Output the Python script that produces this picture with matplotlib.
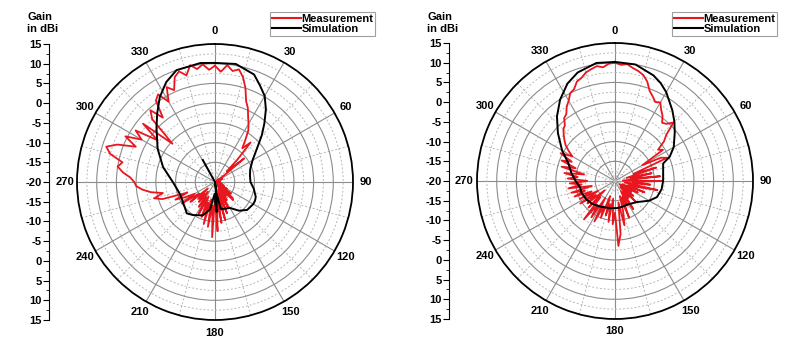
import numpy as np
import matplotlib
matplotlib.use("Agg")
import matplotlib.pyplot as plt
from matplotlib.lines import Line2D

plt.rcParams['font.family'] = ['Liberation Sans', 'DejaVu Sans']
plt.rcParams['font.weight'] = 'bold'

# --- data (angle in degrees, gain in dBi) ---
ang_meas = list(range(0, 360, 3))

# left plot
sim_l_theta = [0, 10, 20, 25, 30, 35, 40, 45, 50, 60, 70, 80, 90, 100, 110, 115, 120, 131, 140,
               150, 160, 168, 171, 173, 175, 177, 179, 182, 190, 200, 214, 222, 230, 241, 250,
               258, 270, 286, 300, 313, 320, 327, 334, 341, 353, 360]
sim_l_gain = [10.2, 10.4, 9.0, 7.0, 5.2, 2.5, -0.5, -3.2, -5.8, -9.0, -10.5, -11.0, -11.0, -10.0,
              -9.0, -8.8, -8.8, -9.2, -10.5, -12.4, -12.8, -13.0, -16.5, -20.0, -15.0, -12.4, -14.5,
              -17.0, -13.0, -11.0, -9.9, -9.3, -10.0, -10.5, -10.6, -10.3, -9.3, -6.3, -3.2, 0.3,
              2.8, 5.7, 8.2, 10.0, 10.4, 10.2]
sim_l_stub_theta = [331, 331]
sim_l_stub_gain = [-13.6, -20.0]

meas_l_gain = [9.5, 8.0, 9.8, 8.5, 9.2, 7.5, 5.0, 2.0, 0.5, -1.5,
               -3.0, -4.5, -7.0, -9.0, -6.5, -12.0, -16.0, -10.5, -17.0, -19.0,
               -18.5, -19.5, -18.0, -19.5, -18.5, -19.8, -18.8, -19.5, -19.0, -19.6,
               -18.7, -19.5, -19.0, -19.8, -18.5, -19.5, -18.0, -19.2, -17.5, -19.0,
               -16.5, -19.0, -15.0, -18.5, -14.0, -13.5, -18.0, -15.5, -19.0, -14.5,
               -17.5, -12.5, -18.0, -11.5, -17.0, -10.0, -16.5, -9.5, -15.0, -7.5,
               -16.0, -6.0, -14.0, -8.5, -15.5, -9.0, -14.5, -10.5, -16.0, -11.0,
               -15.5, -12.5, -17.0, -13.5, -16.0, -14.0, -17.5, -12.0, -15.0, -10.0,
               -14.0, -11.5, -9.0, -12.5, -6.0, -4.0, -6.5, -3.5, -1.5, 0.0,
               0.5, 1.5, 3.5, 5.0, 4.0, 7.5, 9.0, 6.5, 2.0, 5.5,
               1.5, 4.0, -2.0, 3.5, -5.5, 2.5, 4.5, 1.0, 5.5, 6.5,
               3.5, 7.0, 5.5, 8.5, 9.5, 8.0, 10.3, 9.0, 10.0, 8.5]

# right plot
sim_r_theta = [0, 10, 20, 25, 30, 39, 45, 51, 60, 66, 70, 80, 90, 100, 111, 120, 134, 150, 165,
               176, 190, 210, 225, 236, 250, 260, 270, 280, 291, 300, 310, 318, 326, 334, 341,
               351, 360]
sim_r_gain = [10.2, 10.0, 8.5, 7.4, 6.0, 3.1, 1.3, -0.5, -2.8, -4.8, -7.0, -7.6, -7.8, -8.0,
              -8.6, -10.0, -12.3, -13.2, -13.2, -13.1, -13.0, -12.5, -11.8, -11.4, -11.0, -11.0,
              -10.0, -8.8, -7.3, -4.5, -1.1, 2.0, 4.9, 7.5, 9.1, 10.3, 10.2]

meas_r_gain = [10.0, 9.5, 9.8, 9.0, 8.5, 7.8, 6.5, 4.5, 3.5, 2.5,
               3.0, 1.5, 0.5, -1.0, -0.5, 1.0, -2.5, -4.0, -6.5, -5.5,
               -12.0, -7.0, -5.5, -15.0, -9.0, -17.0, -10.5, -16.0, -8.5, -18.0,
               -8.0, -15.5, -11.0, -17.5, -9.0, -14.0, -16.5, -12.0, -18.0, -13.5,
               -17.0, -15.0, -18.5, -14.0, -17.5, -12.5, -18.0, -14.5, -16.5, -11.5,
               -17.0, -13.0, -15.5, -10.0, -16.0, -12.0, -8.5, -14.5, -6.5, -3.5,
               -12.0, -9.0, -15.5, -9.5, -14.0, -11.0, -16.0, -10.0, -13.0, -8.5,
               -15.0, -9.0, -12.5, -7.5, -14.5, -10.5, -16.5, -11.0, -14.0, -9.5,
               -15.0, -10.0, -13.5, -9.0, -12.0, -8.5, -14.0, -8.0, -11.5, -8.5,
               -13.0, -8.0, -10.5, -7.0, -12.0, -6.0, -9.5, -5.5, -8.0, -4.5,
               -7.5, -6.0, -4.5, -3.5, -2.5, -1.5, -1.0, 0.5, 1.0, 2.5,
               3.5, 5.0, 5.5, 7.0, 7.5, 8.5, 9.0, 9.5, 9.0, 9.8]

theta_labels = [str(a) for a in range(0, 360, 30)]
r_min, r_max = -20, 15

RED = '#e8171f'


def close_loop(th, g):
    return list(th) + [th[0]], list(g) + [g[0]]


def polar_panel(fig, rect, sim_list, meas_gain, axis_x, legend_xy):
    ax = fig.add_axes(rect, projection='polar')
    ax.set_theta_zero_location('N')
    ax.set_theta_direction(-1)
    ax.set_rlim(r_min, r_max)

    # grid
    ax.set_xticks(np.deg2rad(np.arange(0, 360, 30)))
    ax.set_xticks(np.deg2rad(np.arange(15, 360, 30)), minor=True)
    ax.set_xticklabels(theta_labels, fontsize=8, fontweight='bold')
    ax.set_yticks(np.arange(-15, 15, 5))
    ax.set_yticks(np.arange(-17.5, 15, 5), minor=True)
    ax.set_yticklabels([])
    ax.tick_params(axis='x', which='major', pad=2, length=4, width=0.8, direction='in')
    ax.tick_params(axis='x', which='minor', length=3, width=0.7, direction='in')
    ax.tick_params(axis='y', which='both', length=0)
    ax.grid(True, which='major', color='#8c8c8c', lw=0.8, ls='-')
    ax.grid(True, which='minor', color='#b8b8b8', lw=0.7, ls=(0, (2, 2)))
    ax.spines['polar'].set_color('black')
    ax.spines['polar'].set_linewidth(1.3)
    ax.set_axisbelow(True)

    # measurement
    th, g = close_loop(ang_meas, meas_gain)
    ax.plot(np.deg2rad(th), np.clip(g, r_min, r_max), color=RED, lw=1.3, zorder=3)
    # simulation
    for s_th, s_g in sim_list:
        ax.plot(np.deg2rad(s_th), s_g, color='black', lw=1.4, zorder=4)

    # left radial scale like the original (15 ... -20 ... 15)
    pos = ax.get_position()
    sax = fig.add_axes([axis_x, pos.y0, 0.0001, pos.height])
    sax.set_ylim(-(r_max - r_min), r_max - r_min)
    yt = np.arange(-(r_max - r_min), r_max - r_min + 1, 5)
    sax.set_yticks(yt)
    sax.set_yticklabels([str(int(abs(v) + r_min)) for v in yt], fontsize=8, fontweight='bold')
    sax.set_yticks(np.arange(-(r_max - r_min) + 2.5, r_max - r_min, 5), minor=True)
    sax.tick_params(axis='y', which='major', length=4, width=0.8, pad=1)
    sax.tick_params(axis='y', which='minor', length=2, width=0.6)
    sax.set_xticks([])
    for s in ['right', 'top', 'bottom']:
        sax.spines[s].set_visible(False)
    sax.spines['left'].set_linewidth(0.8)
    sax.patch.set_visible(False)

    fig.text(axis_x - 22 / 800, 1 - 23.5 / 337, 'Gain\nin dBi', ha='left', va='center',
             fontsize=8, fontweight='bold', linespacing=1.25)

    handles = [Line2D([], [], color=RED, lw=1.5), Line2D([], [], color='black', lw=1.5)]
    leg = ax.legend(handles, ['Measurement', 'Simulation'], loc='upper left',
                    bbox_to_anchor=legend_xy, bbox_transform=fig.transFigure,
                    prop={'size': 8, 'weight': 'bold'}, frameon=True, fancybox=False,
                    edgecolor='#888888', borderpad=0.15, labelspacing=0.05,
                    handlelength=2.6, handletextpad=0.1, borderaxespad=0)
    leg.get_frame().set_linewidth(0.8)
    return ax


fig = plt.figure(figsize=(8, 3.37), dpi=100)

polar_panel(fig, [77 / 800, 17 / 337, 276 / 800, 276 / 337],
            [(sim_l_theta, sim_l_gain), (sim_l_stub_theta, sim_l_stub_gain)],
            meas_l_gain, 49 / 800, (270 / 800, 1 - 12 / 337))
polar_panel(fig, [477 / 800, 18 / 337, 276 / 800, 276 / 337],
            [(sim_r_theta, sim_r_gain)],
            meas_r_gain, 449 / 800, (672 / 800, 1 - 12 / 337))

fig.savefig('out.png', dpi=100, facecolor='white')
